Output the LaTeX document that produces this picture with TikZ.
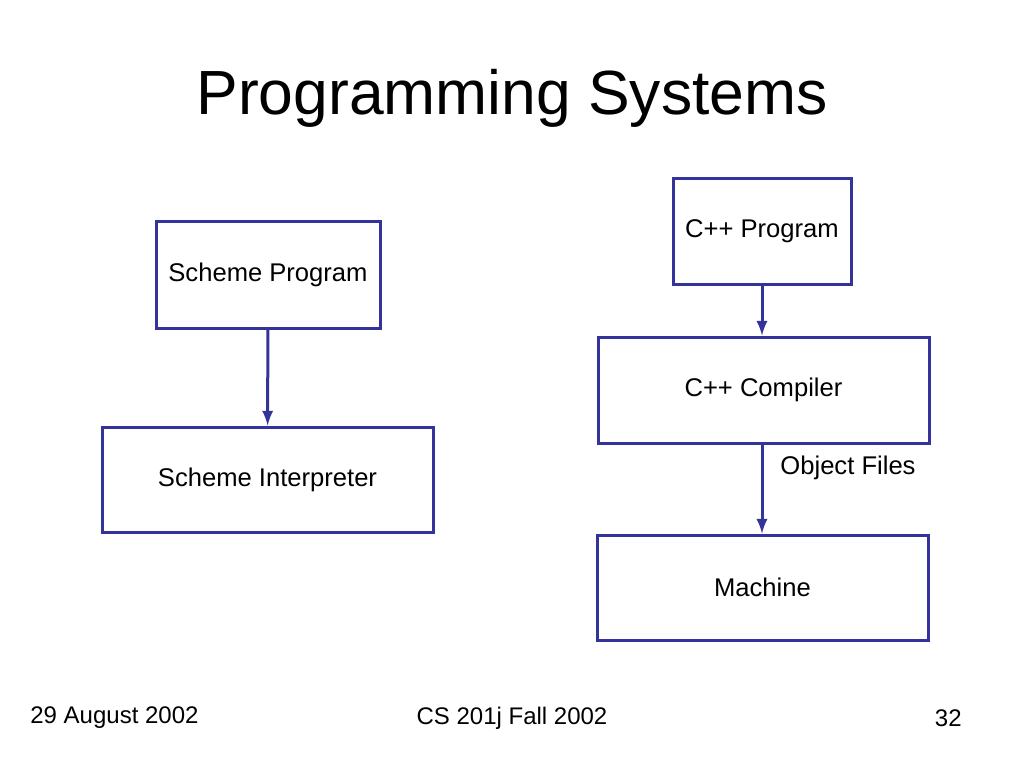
\documentclass[tikz,border=0pt]{standalone}
\usepackage{fontspec}
\setmainfont{Liberation Sans}
\definecolor{boxline}{RGB}{51,51,153}
\begin{document}
\begin{tikzpicture}[
    x=0.5pt, y=-0.5pt,
    block/.style={rectangle, draw=boxline, line width=1.5pt, inner sep=0pt, font=\fontsize{12.8}{15}\selectfont},
    arrow/.style={-latex, draw=boxline, line width=1.5pt},
    foot/.style={font=\fontsize{12}{14}\selectfont, inner sep=0pt}
]
\useasboundingbox (0,0) rectangle (1024,768);

% Title
\node (title) at (512,98) {\fontsize{31.2}{36}\selectfont Programming Systems};

% Scheme side
\node (sprog) [block, minimum width=112pt, minimum height=53.5pt] at (268,274.5) {Scheme Program};
\node (sinterp) [block, minimum width=165.5pt, minimum height=52.5pt] at (267.5,479.5) {Scheme Interpreter};

% C++ side
\node (cprog) [block, minimum width=89pt, minimum height=53pt] at (762,231) {C++ Program};
\node (ccomp) [block, minimum width=165.5pt, minimum height=53pt] at (763.5,390) {C++ Compiler};
\node (mach) [block, minimum width=165.5pt, minimum height=52.5pt] at (762.5,587.5) {Machine};
\node (objf) [font=\fontsize{12.8}{15}\selectfont] at (848,468) {Object Files};

% Connect nodes
\draw [arrow] (sprog) -- (sinterp);
\draw [arrow] (cprog) -- (cprog |- ccomp.north);
\draw [arrow] (ccomp.south -| cprog) -- (mach.north -| cprog);

% Footer
\node (date) [foot, anchor=west] at (30,718) {29 August 2002};
\node (course) [foot] at (512,718) {CS 201j Fall 2002};
\node (page) [foot, anchor=east] at (962,718) {32};
\end{tikzpicture}
\end{document}
